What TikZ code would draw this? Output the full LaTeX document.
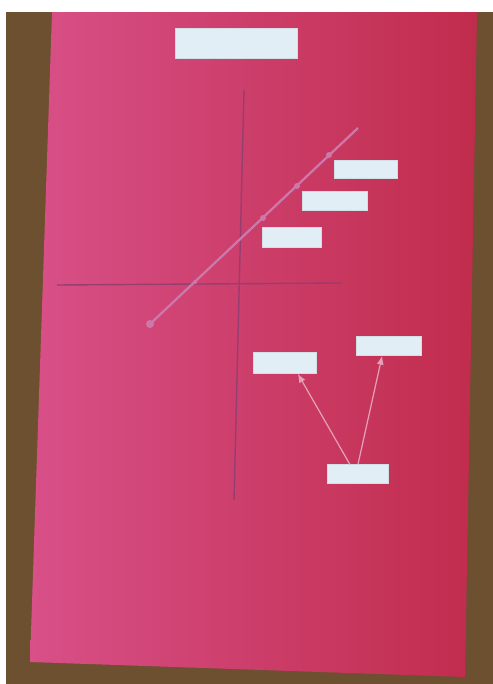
\documentclass[tikz,border=0pt]{standalone}
\usepackage{xcolor}
\usepackage{tikz}
\usetikzlibrary{positioning, arrows.meta}
\definecolor{wood}{RGB}{108,80,48}
\definecolor{paperA}{RGB}{216,80,136}
\definecolor{paperB}{RGB}{192,44,76}
\definecolor{card}{RGB}{226,238,246}
\definecolor{axis}{RGB}{150,62,112}
\definecolor{chalk}{RGB}{205,120,170}
\definecolor{thread}{RGB}{228,160,185}

\begin{document}
\begin{tikzpicture}[x=0.02cm, y=-0.02cm,
  lab/.style={fill=card, draw=card!85!gray, line width=0.3pt, inner sep=0pt},
  ar/.style={draw=thread, line width=0.7pt, -{Latex[length=5pt, width=4pt]}}]
\useasboundingbox (0,0) rectangle (493,684);
\fill[white] (0,0) rectangle (493,684);
\fill[wood] (6,12) rectangle (493,684);
\shade[left color=paperA, right color=paperB] (52,12) -- (477,12) -- (465,677) -- (30,662) -- cycle;
\node[lab, minimum width=2.44cm, minimum height=0.6cm] (title) at (236,43) {};
% axes
\draw[axis, line width=0.8pt] (244,90) -- (234,500);
\draw[axis, line width=0.8pt] (57,285) -- (342,283);
\draw[chalk, line width=1.3pt] (150,324) -- (358,128);
\fill[chalk] (150,324) circle (4); \fill[chalk] (329,155) circle (3);
\fill[chalk] (297,186) circle (3); \fill[chalk] (263,218) circle (3);
\fill[chalk] (195,282) circle (2);
\node[lab, minimum width=1.26cm, minimum height=0.36cm] (t1) at (366,169) {};
\node[lab, minimum width=1.3cm, minimum height=0.38cm] (t2) at (335,201) {};
\node[lab, minimum width=1.18cm, minimum height=0.4cm] (t3) at (292,237) {};
% lower group
\node[lab, minimum width=1.26cm, minimum height=0.42cm] (lft) at (285,363) {};
\node[lab, minimum width=1.3cm, minimum height=0.38cm] (rgt) at (389,346) {};
\node[lab, minimum width=1.22cm, minimum height=0.38cm] (bot) at (358,474) {};
\draw[ar] (bot.130) -- (lft.-40);
\draw[ar] (bot.90) -- (rgt.-125);
\end{tikzpicture}
\end{document}
